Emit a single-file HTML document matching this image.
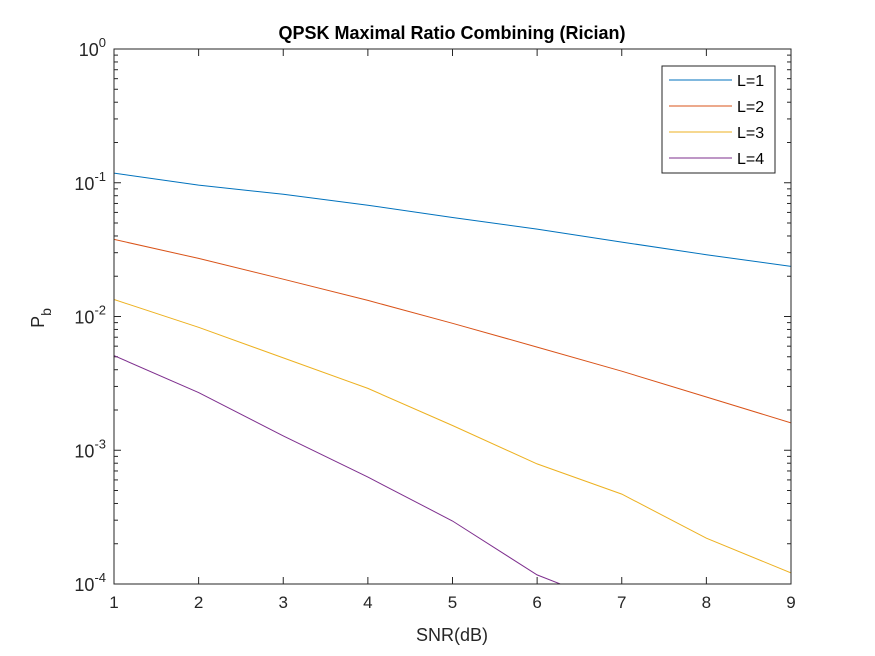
<!DOCTYPE html>
<html><head><meta charset="utf-8"><style>
html,body{margin:0;padding:0;background:#fff;width:875px;height:656px;overflow:hidden}
svg{display:block}
svg text{font-family:"Liberation Sans",Arial,sans-serif}
</style></head><body>
<svg id="chart" width="875" height="656" xmlns="http://www.w3.org/2000/svg">
<rect x="0" y="0" width="875" height="656" fill="#fff"/>
<defs><clipPath id="clip"><rect x="114" y="49" width="677" height="535"/></clipPath></defs>
<g id="grid"></g>
<g id="series" clip-path="url(#clip)"></g>
<rect x="114" y="49" width="677" height="535" fill="none" stroke="#262626" stroke-width="1"/>
<text x="452" y="39" text-anchor="middle" font-size="18" font-weight="bold" fill="#000">QPSK Maximal Ratio Combining (Rician)</text>
<text x="452" y="641" text-anchor="middle" font-size="18" fill="#262626">SNR(dB)</text>
<text transform="translate(44,318) rotate(-90)" text-anchor="middle" font-size="18" fill="#262626">P<tspan font-size="14" dy="7">b</tspan></text>
<g>
<rect x="662" y="66" width="113" height="107" fill="#fff" stroke="#262626" stroke-width="1"/>
<g id="legendItems"></g>
</g>
</svg>
<script>
const xValues=[1,2,3,4,5,6,7,8,9];
const seriesNames=["L=1","L=2","L=3","L=4"];
const seriesL1=[0.118,0.096,0.082,0.068,0.055,0.045,0.036,0.029,0.0237];
const seriesL2=[0.0377,0.0272,0.019,0.0132,0.0089,0.0059,0.0039,0.0025,0.0016];
const seriesL3=[0.0134,0.0083,0.0049,0.0029,0.00153,0.00079,0.00047,0.00022,0.000121];
const seriesL4=[0.0051,0.0027,0.00128,0.00063,0.000296,0.000117,0.000066,0.00003,0.000015];
const xTicks=[1,2,3,4,5,6,7,8,9];
const yTickExps=[0,-1,-2,-3,-4];
const colors=["#0072BD","#D95319","#EDB120","#7E2F8E"];
const NS="http://www.w3.org/2000/svg";
const X0=114,X1=791,Y0=49,Y1=584;
function sx(v){return X0+(v-1)/(9-1)*(X1-X0);}
function sy(v){return Y0+(0-Math.log10(v))/4*(Y1-Y0);}
function mk(t,a,p){const e=document.createElementNS(NS,t);for(const k in a)e.setAttribute(k,a[k]);p.appendChild(e);return e;}
const grid=document.getElementById('grid');
xTicks.forEach(v=>{
  const x=sx(v);
  const t=mk('line',{x1:x,x2:x,y1:Y1,y2:Y1-7,stroke:'#262626'},grid);
  
  
  mk('line',{x1:x,x2:x,y1:Y0,y2:Y0+7,stroke:'#262626'},grid);
  const l=mk('text',{x:x,y:Y1+24,'text-anchor':'middle','font-size':'17',fill:'#262626'},grid);
  l.textContent=v;
  
  
});
yTickExps.forEach(e=>{
  const y=sy(Math.pow(10,e));
  const t=mk('line',{x1:X0,x2:X0+7,y1:y,y2:y,stroke:'#262626'},grid);
  
  
  mk('line',{x1:X1,x2:X1-7,y1:y,y2:y,stroke:'#262626'},grid);
  const l=mk('text',{x:X0-8,y:y+7,'text-anchor':'end','font-size':'18',fill:'#262626'},grid);
  l.innerHTML='10<tspan font-size="13" dy="-9">'+e+'</tspan>';
  
  
  if(e>-4){for(let m=2;m<=9;m++){const ym=sy(m*Math.pow(10,e-1));
    mk('line',{x1:X0,x2:X0+4,y1:ym,y2:ym,stroke:'#262626'},grid);
    mk('line',{x1:X1,x2:X1-4,y1:ym,y2:ym,stroke:'#262626'},grid);}}
});
const ser=document.getElementById('series');
[seriesL1,seriesL2,seriesL3,seriesL4].forEach((s,i)=>{
  const pts=s.map((v,j)=>sx(xValues[j]).toFixed(1)+','+sy(v).toFixed(1)).join(' ');
  const p=mk('polyline',{points:pts,fill:'none',stroke:colors[i],'stroke-width':'1'},ser);
  
  
});
const lg=document.getElementById('legendItems');
seriesNames.forEach((n,i)=>{
  const y=80+i*26;
  const ln=mk('line',{x1:669,x2:732,y1:y,y2:y,stroke:colors[i],'stroke-width':'1'},lg);
  
  
  const t=mk('text',{x:737,y:y+6,'font-size':'16',fill:'#000'},lg);
  t.textContent=n;
  
  
});
</script>
</body></html>
